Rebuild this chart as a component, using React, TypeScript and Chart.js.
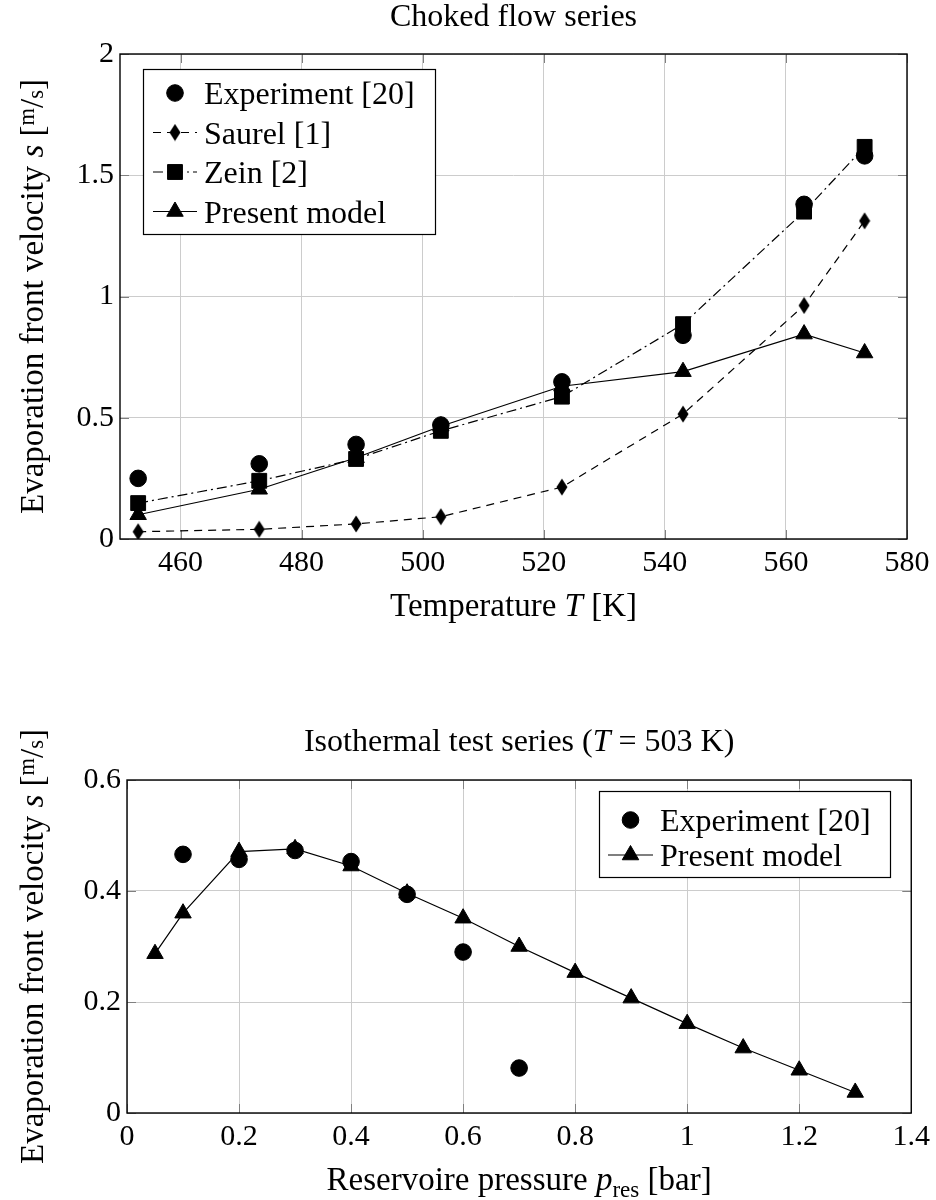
import React, { useEffect, useRef } from "react";
import { Chart, registerables } from "chart.js";

Chart.register(...registerables);

const FONT = '"Liberation Serif", "Times New Roman", serif';

// ---------- Top chart: Choked flow series ----------
const temperatureK = [453, 473, 489, 503, 523, 543, 563, 573];
const experimentTemp = [0.25, 0.31, 0.39, 0.47, 0.648, 0.84, 1.38, 1.58];
const saurelTemp = [0.03, 0.04, 0.062, 0.092, 0.214, 0.515, 0.963, 1.312];
const zeinTemp = [0.148, 0.24, 0.33, 0.446, 0.587, 0.886, 1.35, 1.617];
const modelTemp = [0.1, 0.205, 0.335, 0.465, 0.63, 0.69, 0.845, 0.767];
const tempTicks = [460, 480, 500, 520, 540, 560, 580];
const velTicksTop = [0, 0.5, 1, 1.5, 2];

// ---------- Bottom chart: Isothermal test series ----------
const pressureExp = [0.1, 0.2, 0.3, 0.4, 0.5, 0.6, 0.7];
const experimentPres = [0.466, 0.457, 0.473, 0.453, 0.394, 0.29, 0.081];
const pressureModel = [0.05, 0.1, 0.2, 0.3, 0.4, 0.5, 0.6, 0.7, 0.8, 0.9, 1.0, 1.1, 1.2, 1.3];
const modelPres = [0.287, 0.36, 0.471, 0.476, 0.445, 0.396, 0.351, 0.3, 0.253, 0.207, 0.161, 0.117, 0.077, 0.037];
const presTicks = [0, 0.2, 0.4, 0.6, 0.8, 1, 1.2, 1.4];
const velTicksBottom = [0, 0.2, 0.4, 0.6];

type Seg = { t: string; it?: boolean; scale?: number; dy?: number };

function segFont(s: Seg, size: number) {
  const px = size * (s.scale ?? 1);
  return `${s.it ? "italic " : ""}${px}px ${FONT}`;
}

function drawRich(ctx: CanvasRenderingContext2D, segs: Seg[], cx: number, baseY: number, size: number, rot = 0) {
  ctx.save();
  ctx.translate(cx, baseY);
  ctx.rotate(rot);
  ctx.fillStyle = "#000";
  ctx.textAlign = "left";
  ctx.textBaseline = "alphabetic";
  let total = 0;
  const widths = segs.map((s) => {
    ctx.font = segFont(s, size);
    const w = ctx.measureText(s.t).width;
    total += w;
    return w;
  });
  let x = -total / 2;
  segs.forEach((s, i) => {
    ctx.font = segFont(s, size);
    ctx.fillText(s.t, x, (s.dy ?? 0) * size);
    x += widths[i];
  });
  ctx.restore();
}

function makeDiamond(): HTMLCanvasElement {
  const c = document.createElement("canvas");
  c.width = 12;
  c.height = 18;
  const g = c.getContext("2d")!;
  g.fillStyle = "#000";
  g.beginPath();
  g.moveTo(6, 0.5);
  g.lineTo(11.5, 9);
  g.lineTo(6, 17.5);
  g.lineTo(0.5, 9);
  g.closePath();
  g.fill();
  return c;
}

function drawMarker(ctx: CanvasRenderingContext2D, style: any, r: number, x: number, y: number) {
  ctx.save();
  ctx.fillStyle = "#000";
  ctx.strokeStyle = "#000";
  ctx.lineWidth = 1;
  if (style instanceof HTMLCanvasElement) {
    ctx.drawImage(style, x - style.width / 2, y - style.height / 2);
  } else if (style === "circle") {
    ctx.beginPath();
    ctx.arc(x, y, r, 0, Math.PI * 2);
    ctx.fill();
    ctx.stroke();
  } else if (style === "rect") {
    const s = r * Math.SQRT1_2;
    ctx.beginPath();
    ctx.rect(x - s, y - s, 2 * s, 2 * s);
    ctx.fill();
    ctx.stroke();
  } else if (style === "triangle") {
    ctx.beginPath();
    let a = 0;
    ctx.moveTo(x + Math.sin(a) * r, y - Math.cos(a) * r);
    a += (2 * Math.PI) / 3;
    ctx.lineTo(x + Math.sin(a) * r, y - Math.cos(a) * r);
    a += (2 * Math.PI) / 3;
    ctx.lineTo(x + Math.sin(a) * r, y - Math.cos(a) * r);
    ctx.closePath();
    ctx.fill();
    ctx.stroke();
  }
  ctx.restore();
}

type TextCfg = {
  title: Seg[];
  titleBase: number;
  xTitle: Seg[];
  xTitleBase: number;
  yTitle: Seg[];
  yTitleX: number;
  legend: { x: number; y: number; w: number; h: number; firstRow: number; rowH: number; lineX0: number; lineX1: number; textX: number };
};

function makePlugins(cfg: TextCfg) {
  const frame = {
    id: "pgfFrame",
    beforeDatasetsDraw(chart: any) {
      const { ctx, chartArea: a, scales } = chart;
      ctx.save();
      ctx.strokeStyle = "#808080";
      ctx.lineWidth = 1;
      const tl = 9;
      scales.x.ticks.forEach((t: any) => {
        const px = Math.round(scales.x.getPixelForValue(t.value)) + 0.5;
        ctx.beginPath();
        ctx.moveTo(px, a.bottom);
        ctx.lineTo(px, a.bottom - tl);
        ctx.moveTo(px, a.top);
        ctx.lineTo(px, a.top + tl);
        ctx.stroke();
      });
      scales.y.ticks.forEach((t: any) => {
        const py = Math.round(scales.y.getPixelForValue(t.value)) + 0.5;
        ctx.beginPath();
        ctx.moveTo(a.left, py);
        ctx.lineTo(a.left + tl, py);
        ctx.moveTo(a.right, py);
        ctx.lineTo(a.right - tl, py);
        ctx.stroke();
      });
      ctx.strokeStyle = "#000";
      ctx.lineWidth = 1.4;
      ctx.strokeRect(a.left, a.top, a.right - a.left, a.bottom - a.top);
      ctx.restore();
    },
  };
  const texts = {
    id: "pgfTexts",
    afterDraw(chart: any) {
      const { ctx, chartArea: a } = chart;
      const cx = (a.left + a.right) / 2;
      const cy = (a.top + a.bottom) / 2;
      drawRich(ctx, cfg.title, cx, cfg.titleBase, 32);
      drawRich(ctx, cfg.xTitle, cx, cfg.xTitleBase, 33);
      drawRich(ctx, cfg.yTitle, cfg.yTitleX, cy, 33, -Math.PI / 2);
      // legend
      const L = cfg.legend;
      ctx.save();
      ctx.fillStyle = "#fff";
      ctx.fillRect(L.x, L.y, L.w, L.h);
      ctx.strokeStyle = "#000";
      ctx.lineWidth = 1.2;
      ctx.strokeRect(L.x + 0.5, L.y + 0.5, L.w, L.h);
      chart.data.datasets.forEach((ds: any, i: number) => {
        const y = L.firstRow + i * L.rowH;
        if (ds.showLine !== false) {
          ctx.save();
          ctx.strokeStyle = "#000";
          ctx.lineWidth = ds.borderWidth ?? 1.2;
          ctx.setLineDash(ds.borderDash || []);
          ctx.beginPath();
          ctx.moveTo(L.lineX0, y);
          ctx.lineTo(L.lineX1, y);
          ctx.stroke();
          ctx.restore();
        }
        drawMarker(ctx, ds.pointStyle, ds.pointRadius, (L.lineX0 + L.lineX1) / 2, y);
        ctx.fillStyle = "#000";
        ctx.font = `32px ${FONT}`;
        ctx.textAlign = "left";
        ctx.textBaseline = "alphabetic";
        ctx.fillText(ds.label, L.textX, y + 11);
      });
      ctx.restore();
    },
  };
  return [frame, texts];
}

const fmt = (v: number) => String(Math.round(v * 1000) / 1000);

function axisCommon(ticksList: number[], min: number, max: number, fixed: { width?: number; height?: number }) {
  return {
    type: "linear" as const,
    min,
    max,
    afterBuildTicks: (scale: any) => {
      scale.ticks = ticksList.map((v) => ({ value: v }));
    },
    afterFit: (scale: any) => {
      if (fixed.width !== undefined) scale.width = fixed.width;
      if (fixed.height !== undefined) scale.height = fixed.height;
    },
    grid: { color: "#cccccc", lineWidth: 1, drawTicks: false },
    border: { display: false },
    ticks: {
      color: "#000",
      font: { family: FONT, size: 30 },
      padding: 6,
      autoSkip: false,
      maxRotation: 0,
      callback: (v: any) => fmt(Number(v)),
    },
    title: { display: false },
  };
}

function pts(xs: number[], ys: number[]) {
  return xs.map((x, i) => ({ x, y: ys[i] }));
}

function buildTop(): any {
  const diamond = makeDiamond();
  return {
    type: "line",
    data: {
      datasets: [
        {
          label: "Experiment [20]",
          data: pts(temperatureK, experimentTemp),
          showLine: false,
          pointStyle: "circle",
          pointRadius: 8.3,
          backgroundColor: "#000",
          borderColor: "#000",
          pointBorderWidth: 1,
        },
        {
          label: "Saurel [1]",
          data: pts(temperatureK, saurelTemp),
          showLine: true,
          borderDash: [8, 6],
          borderWidth: 1.2,
          pointStyle: diamond,
          pointRadius: 8,
          backgroundColor: "#000",
          borderColor: "#000",
        },
        {
          label: "Zein [2]",
          data: pts(temperatureK, zeinTemp),
          showLine: true,
          borderDash: [10, 4, 2, 4],
          borderWidth: 1.2,
          pointStyle: "rect",
          pointRadius: 10.5,
          backgroundColor: "#000",
          borderColor: "#000",
          pointBorderWidth: 1,
        },
        {
          label: "Present model",
          data: pts(temperatureK, modelTemp),
          showLine: true,
          borderWidth: 1.2,
          pointStyle: "triangle",
          pointRadius: 9.5,
          backgroundColor: "#000",
          borderColor: "#000",
          pointBorderWidth: 1,
        },
      ],
    },
    options: {
      responsive: false,
      devicePixelRatio: 1,
      animation: false,
      events: [],
      layout: { padding: { top: 54, right: 29, left: 0, bottom: 0 } },
      scales: {
        x: axisCommon(tempTicks, 450, 580, { height: 121 }),
        y: axisCommon(velTicksTop, 0, 2, { width: 120 }),
      },
      plugins: { legend: { display: false }, title: { display: false }, tooltip: { enabled: false } },
    },
    plugins: makePlugins({
      title: [{ t: "Choked flow series" }],
      titleBase: 26,
      xTitle: [{ t: "Temperature " }, { t: "T", it: true }, { t: " [K]" }],
      xTitleBase: 616,
      yTitle: [
        { t: "Evaporation front velocity " },
        { t: "s", it: true },
        { t: " [" },
        { t: "m", scale: 0.68, dy: -0.28 },
        { t: "/" },
        { t: "s", scale: 0.68 },
        { t: "]" },
      ],
      yTitleX: 43,
      legend: { x: 143, y: 69, w: 292, h: 165, firstRow: 93, rowH: 39.5, lineX0: 153, lineX1: 197, textX: 204 },
    }),
  };
}

function buildBottom(): any {
  return {
    type: "line",
    data: {
      datasets: [
        {
          label: "Experiment [20]",
          data: pts(pressureExp, experimentPres),
          showLine: false,
          pointStyle: "circle",
          pointRadius: 8.3,
          backgroundColor: "#000",
          borderColor: "#000",
          pointBorderWidth: 1,
        },
        {
          label: "Present model",
          data: pts(pressureModel, modelPres),
          showLine: true,
          borderWidth: 1.2,
          pointStyle: "triangle",
          pointRadius: 9.5,
          backgroundColor: "#000",
          borderColor: "#000",
          pointBorderWidth: 1,
        },
      ],
    },
    options: {
      responsive: false,
      devicePixelRatio: 1,
      animation: false,
      events: [],
      layout: { padding: { top: 100, right: 22, left: 0, bottom: 0 } },
      scales: {
        x: axisCommon(presTicks, 0, 1.4, { height: 87 }),
        y: axisCommon(velTicksBottom, 0, 0.6, { width: 127 }),
      },
      plugins: { legend: { display: false }, title: { display: false }, tooltip: { enabled: false } },
    },
    plugins: makePlugins({
      title: [{ t: "Isothermal test series (" }, { t: "T", it: true }, { t: " = 503 K)" }],
      titleBase: 71,
      xTitle: [
        { t: "Reservoire pressure " },
        { t: "p", it: true },
        { t: "res", scale: 0.7, dy: 0.2 },
        { t: " [bar]" },
      ],
      xTitleBase: 510,
      yTitle: [
        { t: "Evaporation front velocity " },
        { t: "s", it: true },
        { t: " [" },
        { t: "m", scale: 0.68, dy: -0.28 },
        { t: "/" },
        { t: "s", scale: 0.68 },
        { t: "]" },
      ],
      yTitleX: 43,
      legend: { x: 599, y: 111, w: 291, h: 86, firstRow: 140, rowH: 35, lineX0: 608, lineX1: 653, textX: 660 },
    }),
  };
}

function PlotCanvas({ top, width, height, build }: { top: number; width: number; height: number; build: () => any }) {
  const ref = useRef<HTMLCanvasElement>(null);
  useEffect(() => {
    const chart = new Chart(ref.current!, build());
    return () => chart.destroy();
  }, []);
  return (
    <canvas
      ref={ref}
      width={width}
      height={height}
      style={{ position: "absolute", left: 0, top, width, height, display: "block" }}
    />
  );
}

export default function App() {
  return (
    <div style={{ position: "absolute", left: 0, top: 0, width: 936, height: 1200, background: "#fff" }}>
      <PlotCanvas top={0} width={936} height={660} build={buildTop} />
      <PlotCanvas top={680} width={936} height={520} build={buildBottom} />
    </div>
  );
}
